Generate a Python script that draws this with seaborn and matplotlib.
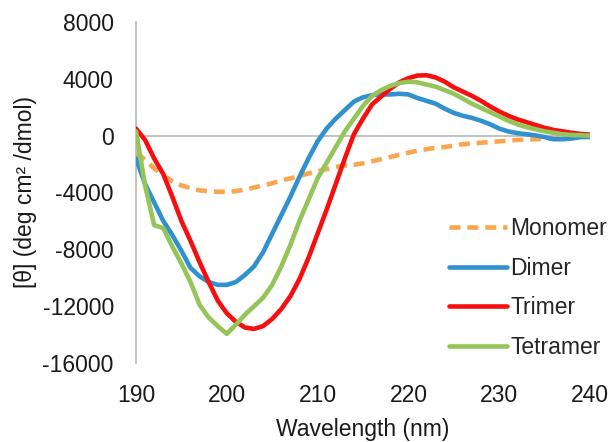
import matplotlib
matplotlib.use("Agg")
import matplotlib.pyplot as plt
import seaborn as sns
import pandas as pd

# wavelength grid (nm)
wavelength = list(range(190, 241))

monomer = [-1200, -1700, -2300, -2800, -3200, -3500, -3700, -3850, -3900, -3950,
           -3950, -3900, -3800, -3650, -3500, -3350, -3150, -3000, -2850, -2650,
           -2500, -2350, -2200, -2100, -2050, -1950, -1800, -1650, -1500, -1350,
           -1200, -1050, -950, -850, -800, -700, -600, -550, -500, -450,
           -400, -350, -300, -280, -250, -220, -200, -150, -100, -50, 0]

dimer = [-1600, -3400, -4700, -6000, -7000, -8100, -9300, -9900, -10300, -10500,
         -10500, -10300, -9800, -9200, -8200, -6900, -5600, -4300, -2900, -1600,
         -400, 500, 1200, 1800, 2400, 2700, 2850, 2900, 2900, 2950,
         2900, 2650, 2450, 2250, 1900, 1600, 1400, 1250, 1050, 800,
         500, 300, 180, 100, 20, -100, -250, -250, -200, -100, -100]

trimer = [500, -300, -1600, -2700, -4300, -6000, -7400, -8900, -10300, -11600,
          -12500, -13100, -13500, -13600, -13400, -12900, -12200, -11300, -10100, -8600,
          -6900, -5200, -3400, -1600, 100, 1200, 2200, 2750, 3300, 3750,
          4050, 4230, 4250, 4100, 3800, 3400, 3100, 2800, 2450, 2050,
          1700, 1400, 1150, 950, 750, 550, 400, 300, 200, 120, 70]

tetramer = [300, -3500, -6300, -6500, -7800, -9000, -10300, -11900, -12800, -13400,
            -13950, -13300, -12600, -12000, -11400, -10500, -9200, -7700, -6000, -4500,
            -3000, -1900, -800, 300, 1200, 2100, 2800, 3200, 3500, 3700,
            3800, 3750, 3600, 3450, 3200, 2950, 2600, 2250, 1950, 1650,
            1350, 1050, 800, 600, 450, 300, 200, 100, 50, 30, 0]

series_names = ["Monomer", "Dimer", "Trimer", "Tetramer"]
colores = ["#FBA64F", "#3191D0", "#F70F0F", "#93C559"]
y_ticks = [-16000, -12000, -8000, -4000, 0, 4000, 8000]
x_ticks = [190, 200, 210, 220, 230, 240]

frames = []
for name, vals in zip(series_names, [monomer, dimer, trimer, tetramer]):
    frames.append(pd.DataFrame({"wl": wavelength, "theta": vals, "muestra": name}))
df = pd.concat(frames, ignore_index=True)

sns.set_style("white")
plt.rcParams["font.family"] = ["Liberation Sans", "DejaVu Sans"]
plt.rcParams["axes.unicode_minus"] = False
plt.rcParams["lines.solid_joinstyle"] = "round"
plt.rcParams["lines.dash_joinstyle"] = "round"

fig = plt.figure(figsize=(6.13, 4.42), dpi=100)
ax = fig.add_axes([136 / 613, 1 - 363 / 442, 454 / 613, 341 / 442])

ax.axhline(0, color="#BDBDBD", lw=1.3, zorder=1)

sns.lineplot(data=df, x="wl", y="theta", hue="muestra", style="muestra",
             hue_order=series_names, style_order=series_names,
             palette=colores,
             dashes={"Monomer": (2.4, 1.5), "Dimer": "", "Trimer": "", "Tetramer": ""},
             linewidth=3.3, ax=ax, zorder=3)

ax.set_xlim(190, 240)
ax.set_ylim(-16000, 8000)
ax.set_xticks(x_ticks)
ax.set_yticks(y_ticks)
ax.tick_params(axis="both", length=0, labelsize=16.5, colors="#1a1a1a")
ax.tick_params(axis="y", pad=16)
ax.tick_params(axis="x", pad=15)

for s in ["top", "right", "bottom"]:
    ax.spines[s].set_visible(False)
ax.spines["left"].set_color("#BDBDBD")
ax.spines["left"].set_linewidth(1.3)

ax.set_xlabel("Wavelength (nm)", fontsize=16.5, color="#1a1a1a", labelpad=8)
ax.set_ylabel("[θ] (deg cm² /dmol)", fontsize=16.5, color="#1a1a1a", labelpad=4)

ax.legend(title=None, loc="center left", bbox_to_anchor=(0.665, 0.22),
          frameon=False, fontsize=16.5, handlelength=2.5, handletextpad=0.15,
          labelspacing=0.72, borderpad=0)

fig.savefig("out.png", dpi=100)
